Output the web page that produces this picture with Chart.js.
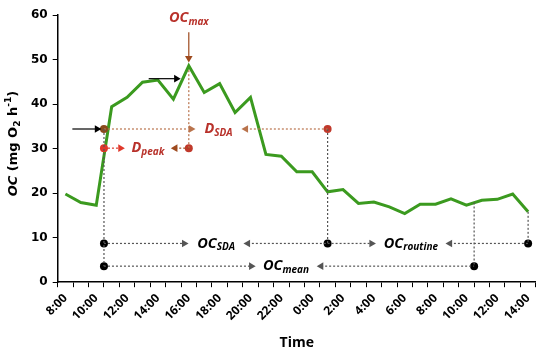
<!DOCTYPE html>
<html>
<head>
<meta charset="utf-8">
<script src="https://cdn.jsdelivr.net/npm/chart.js@4.4.1/dist/chart.umd.min.js"></script>
<style>
  html, body { margin: 0; padding: 0; background: #fff; }
  #wrap { width: 550px; height: 353px; }
</style>
</head>
<body>
<div id="wrap"><canvas id="oc-chart"></canvas></div>
<script>
// Hourly clock labels, 8:00 on day 1 through 14:00 on day 2
const hourLabels = ['8:00', '9:00', '10:00', '11:00', '12:00', '13:00', '14:00', '15:00',
    '16:00', '17:00', '18:00', '19:00', '20:00', '21:00', '22:00', '23:00', '0:00', '1:00',
    '2:00', '3:00', '4:00', '5:00', '6:00', '7:00', '8:00', '9:00', '10:00', '11:00',
    '12:00', '13:00', '14:00'];

// Oxygen consumption (mg O2 h-1), one value per hour
const ocValues = [19.8, 17.9, 17.3, 39.4, 41.5, 44.9, 45.4, 41.1, 48.6, 42.6, 44.6, 38.1,
    41.5, 28.7, 28.3, 24.8, 24.8, 20.3, 20.8, 17.7, 18.0, 16.9, 15.4, 17.5, 17.5, 18.7,
    17.3, 18.4, 18.6, 19.8, 15.8];

const yTicks = [0, 10, 20, 30, 40, 50, 60];

// Key moments, in hours after the first reading
const feedTime = 2.5;
const peakTime = 8;
const sdaEndTime = 17;
const meanEndTime = 26.5;
const endTime = 30;

// Key levels (mg O2 h-1)
const sdaLevel = 34.4;
const peakLevel = 30.1;
const ocMaxLabelLevel = 59.4;
const ocSdaRow = 8.7;
const ocMeanRow = 3.6;

// Colours
const GREEN = '#3b9a1f';
const DARK_RED = '#b8312a';
const RED = '#e0382b';
const BROWN = '#9e4a1e';
const BROWN_DOT = '#b9734c';
const GREY = '#555555';

// Tick positions: every half hour, marks drawn on the half hours (category edges)
const tickValues = [];
for (let v = -0.5; v <= hourLabels.length - 0.5; v += 0.5) tickValues.push(v);

/**
 * Build a line segment dataset, optional triangle heads at either end
 * heads: [startRotation, endRotation], null means no head
 */
function segment(points, color, opts = {}) {
    const heads = opts.heads || [null, null];
    return {
        data: points.map(([x, y]) => ({ x, y })),
        borderColor: color,
        borderWidth: opts.width || 1.2,
        borderDash: opts.solid ? [] : [2, 2],
        pointStyle: 'triangle',
        pointRotation: heads.map(h => h === null ? 0 : h),
        pointRadius: heads.map(h => h === null ? 0 : 4.4),
        pointBackgroundColor: color,
        pointBorderColor: color,
        pointBorderWidth: 0,
        tension: 0,
        order: 0,
        clip: false
    };
}

function dots(points, color) {
    return {
        data: points.map(([x, y]) => ({ x, y })),
        showLine: false,
        pointStyle: 'circle',
        pointRadius: 4,
        pointBackgroundColor: color,
        pointBorderColor: color,
        pointBorderWidth: 0,
        order: 0,
        clip: false
    };
}

const R = 90, L = -90, DOWN = 180;

const annotationSets = [
    // feeding line and arrows
    segment([[feedTime, sdaLevel], [feedTime, ocMeanRow]], GREY),
    segment([[0.45, sdaLevel], [2.05, sdaLevel]], '#000', { solid: true, heads: [null, R] }),
    // D_SDA row
    segment([[feedTime, sdaLevel], [8.15, sdaLevel]], BROWN_DOT, { heads: [null, R] }),
    segment([[11.7, sdaLevel], [sdaEndTime, sdaLevel]], BROWN_DOT, { heads: [L, null] }),
    // D_peak row
    segment([[feedTime, peakLevel], [3.57, peakLevel]], RED, { heads: [null, R] }),
    segment([[7.12, peakLevel], [peakTime, peakLevel]], BROWN, { heads: [L, null] }),
    // peak markers
    segment([[peakTime, peakLevel], [peakTime, 48.0]], BROWN_DOT),
    segment([[peakTime, 56.1], [peakTime, 50.3]], BROWN, { solid: true, heads: [null, DOWN] }),
    segment([[5.4, 45.7], [7.19, 45.7]], '#000', { solid: true, heads: [null, R] }),
    // end of SDA
    segment([[sdaEndTime, sdaLevel], [sdaEndTime, ocSdaRow]], GREY),
    // OC_SDA and OC_routine row
    segment([[feedTime, ocSdaRow], [7.7, ocSdaRow]], GREY, { heads: [null, R] }),
    segment([[11.83, ocSdaRow], [sdaEndTime, ocSdaRow]], GREY, { heads: [L, null] }),
    segment([[sdaEndTime, ocSdaRow], [19.85, ocSdaRow]], GREY, { heads: [null, R] }),
    segment([[24.93, ocSdaRow], [endTime, ocSdaRow]], GREY, { heads: [L, null] }),
    segment([[endTime, ocValues[endTime]], [endTime, ocSdaRow]], GREY),
    // OC_mean row
    segment([[feedTime, ocMeanRow], [12.05, ocMeanRow]], GREY, { heads: [null, R] }),
    segment([[16.58, ocMeanRow], [meanEndTime, ocMeanRow]], GREY, { heads: [L, null] }),
    segment([[meanEndTime, 17.9], [meanEndTime, ocMeanRow]], GREY),
    // dots
    dots([[feedTime, ocSdaRow], [sdaEndTime, ocSdaRow], [endTime, ocSdaRow],
        [feedTime, ocMeanRow], [meanEndTime, ocMeanRow]], '#000'),
    dots([[feedTime, peakLevel]], RED),
    dots([[peakTime, peakLevel], [sdaEndTime, sdaLevel]], '#c0392b'),
    dots([[feedTime, sdaLevel]], '#8a4a1c')
];

// Labels with a subscript, centred on a data position
const richLabels = [
    { base: 'OC', sub: 'max', x: peakTime, y: ocMaxLabelLevel, color: DARK_RED },
    { base: 'D', sub: 'SDA', x: 9.93, y: sdaLevel, color: DARK_RED },
    { base: 'D', sub: 'peak', x: 5.35, y: peakLevel, color: DARK_RED },
    { base: 'OC', sub: 'SDA', x: 9.77, y: ocSdaRow, color: '#000' },
    { base: 'OC', sub: 'routine', x: 22.4, y: ocSdaRow, color: '#000' },
    { base: 'OC', sub: 'mean', x: 14.3, y: ocMeanRow, color: '#000' }
];

const richLabelPlugin = {
    id: 'richLabels',
    afterDatasetsDraw(chart) {
        const { ctx, scales } = chart;
        ctx.save();
        ctx.textBaseline = 'middle';
        richLabels.forEach(lbl => {
            const baseFont = 'italic bold 14.5px "Open Sans"';
            const subFont = 'italic bold 10px "Open Sans"';
            ctx.font = baseFont;
            const wb = ctx.measureText(lbl.base).width;
            ctx.font = subFont;
            const ws = ctx.measureText(lbl.sub).width;
            const cx = scales.x.getPixelForValue(lbl.x);
            const cy = scales.y.getPixelForValue(lbl.y);
            const x0 = cx - (wb + ws) / 2;
            ctx.fillStyle = lbl.color;
            ctx.textAlign = 'left';
            ctx.font = baseFont;
            ctx.fillText(lbl.base, x0, cy);
            ctx.font = subFont;
            ctx.fillText(lbl.sub, x0 + wb, cy + 4);
        });
        ctx.restore();
    }
};

// Y axis title with italic OC, subscript 2 and superscript -1
const yTitleParts = [
    { t: 'OC', italic: true },
    { t: ' (mg O' },
    { t: '2', sub: true },
    { t: ' h' },
    { t: '-1', sup: true },
    { t: ')' }
];

const yTitlePlugin = {
    id: 'yTitle',
    afterDraw(chart) {
        const { ctx, chartArea } = chart;
        const fontFor = p => (p.italic ? 'italic ' : '') + 'bold ' +
            (p.sub || p.sup ? '9px' : '13px') + ' "DejaVu Sans"';
        ctx.save();
        ctx.textBaseline = 'alphabetic';
        let total = 0;
        yTitleParts.forEach(p => { ctx.font = fontFor(p); p.w = ctx.measureText(p.t).width; total += p.w; });
        ctx.translate(chartArea.left - 46, (chartArea.top + chartArea.bottom) / 2 - 5);
        ctx.rotate(-Math.PI / 2);
        let x = -total / 2;
        ctx.fillStyle = '#000';
        yTitleParts.forEach(p => {
            ctx.font = fontFor(p);
            const dy = p.sub ? 3 : (p.sup ? -6 : 0);
            ctx.fillText(p.t, x, 5 + dy);
            x += p.w;
        });
        ctx.restore();
    }
};

const ctx = document.getElementById('oc-chart');

new Chart(ctx, {
    type: 'line',
    data: {
        datasets: [
            ...annotationSets,
            {
                label: 'OC',
                data: ocValues.map((v, i) => ({ x: i, y: v })),
                borderColor: GREEN,
                borderWidth: 3,
                pointRadius: 0,
                tension: 0,
                order: 1
            }
        ]
    },
    options: {
        responsive: true,
        maintainAspectRatio: false,
        animation: false,
        layout: {
            padding: { left: 26, right: 6, top: 15, bottom: 2 }
        },
        plugins: {
            legend: { display: false },
            tooltip: { enabled: false }
        },
        scales: {
            x: {
                type: 'linear',
                min: -0.5,
                max: hourLabels.length - 0.5,
                afterBuildTicks: (scale) => {
                    scale.ticks = tickValues.map(v => ({ value: v }));
                },
                ticks: {
                    autoSkip: false,
                    minRotation: 45,
                    maxRotation: 45,
                    padding: 4,
                    color: '#000',
                    font: { family: 'Open Sans', size: 12, weight: 'bold' },
                    callback: (value) => (Number.isInteger(value) && value % 2 === 0) ? hourLabels[value] : ''
                },
                grid: {
                    drawOnChartArea: false,
                    tickLength: 5,
                    lineWidth: 1,
                    color: (c) => (c.tick && Number.isInteger(c.tick.value)) ? 'rgba(0,0,0,0)' : '#000'
                },
                border: { color: '#000', width: 1.5 },
                title: {
                    display: true,
                    text: 'Time',
                    color: '#000',
                    font: { family: 'Open Sans', size: 14, weight: 'bold' },
                    padding: { top: 7, bottom: 0 }
                }
            },
            y: {
                min: 0,
                max: 60,
                afterBuildTicks: (scale) => {
                    scale.ticks = yTicks.map(v => ({ value: v }));
                },
                ticks: {
                    padding: 5,
                    color: '#000',
                    font: { family: 'DejaVu Sans', size: 12, weight: 'bold' }
                },
                grid: {
                    drawOnChartArea: false,
                    tickLength: 5,
                    color: '#000'
                },
                border: { color: '#000', width: 1.5 }
            }
        }
    },
    plugins: [richLabelPlugin, yTitlePlugin]
});
</script>
</body>
</html>
